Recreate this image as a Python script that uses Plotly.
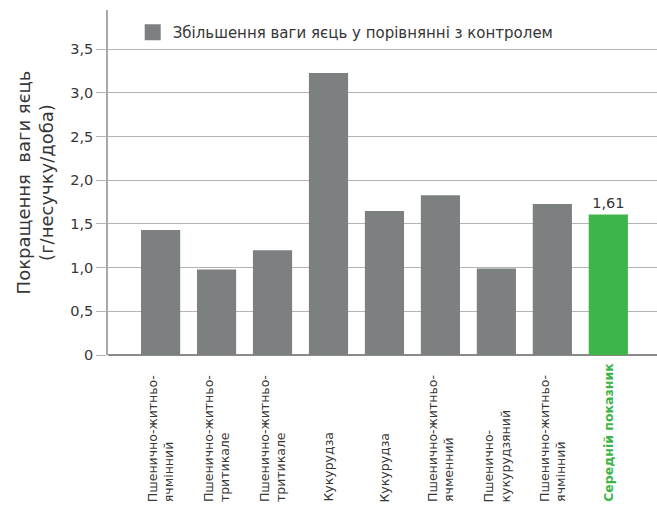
import plotly.graph_objects as go

# Data
categories = [
    "Пшенично-житньо-<br>ячмінний",
    "Пшенично-житньо-<br>тритикале",
    "Пшенично-житньо-<br>тритикале",
    "Кукурудза",
    "Кукурудза",
    "Пшенично-житньо-<br>ячменний",
    "Пшенично-<br>кукурудзяний",
    "Пшенично-житньо-<br>ячмінний",
    "Середній показник",
]
gains = [1.43, 0.98, 1.20, 3.23, 1.65, 1.83, 0.99, 1.73, 1.61]
value_labels = ["", "", "", "", "", "", "", "", "1,61"]
tick_vals = [0, 0.5, 1.0, 1.5, 2.0, 2.5, 3.0, 3.5]
tick_text = ["0", "0,5", "1,0", "1,5", "2,0", "2,5", "3,0", "3,5"]
legend_name = "Збільшення ваги яєць у порівнянні з контролем"

GREY = "#7d8080"
GREEN = "#3db54a"
TEXT = "#363636"
FONT = "DejaVu Sans"

x_idx = list(range(len(categories)))
colors = [GREY] * (len(gains) - 1) + [GREEN]

fig = go.Figure()
fig.add_trace(go.Bar(
    x=x_idx, y=gains, width=0.7, marker=dict(color=colors, line=dict(width=0)),
    text=value_labels, textposition="outside", cliponaxis=False,
    textfont=dict(size=14.5, color=TEXT, family=FONT), showlegend=False))

# legend-only swatch (bigger square than the default bar swatch)
fig.add_trace(go.Scatter(
    x=[None], y=[None], mode="markers", name=legend_name,
    marker=dict(symbol="square", size=19, color=GREY)))

# rotated category labels, aligned at their start (bottom)
for i, lab in enumerate(categories):
    last = i == len(categories) - 1
    fig.add_annotation(
        x=i, y=-0.432, xref="x", yref="paper", text=lab, textangle=-90,
        showarrow=False, yanchor="bottom", xanchor="center", align="left",
        font=dict(size=12.5, family=FONT, color=GREEN if last else TEXT,
                  weight="bold" if last else "normal"))

fig.update_layout(
    width=657, height=507,
    margin=dict(l=108, r=0, t=10, b=152),
    paper_bgcolor="white", plot_bgcolor="white",
    font=dict(family=FONT, color=TEXT),
    bargap=0.3,
    legend=dict(x=0.045, y=0.935, xanchor="left", yanchor="middle",
                font=dict(size=15, family=FONT, color=TEXT),
                bgcolor="rgba(0,0,0,0)", itemwidth=30),
    xaxis=dict(range=[-0.94, 8.87], showticklabels=False, showgrid=False,
               zeroline=False, showline=False, ticks=""),
    yaxis=dict(range=[0, 3.95], tickvals=tick_vals, ticktext=tick_text,
               showgrid=True, gridcolor="#b4b4b4", gridwidth=1.2,
               zeroline=True, zerolinecolor="#8a8a8a", zerolinewidth=1.5,
               showline=True, linecolor="#a8a8a8", linewidth=1.5,
               ticks="outside", ticklen=10, tickcolor="#b4b4b4", tickwidth=1.2,
               tickfont=dict(size=14.5, color=TEXT, family=FONT),
               title=dict(text="Покращення  ваги яєць<br>(г/несучку/доба)",
                          font=dict(size=18, family=FONT, color=TEXT),
                          standoff=12)),
)

fig.write_html("out.html", config={"displayModeBar": False},
               post_script="document.body.style.margin='0';")
